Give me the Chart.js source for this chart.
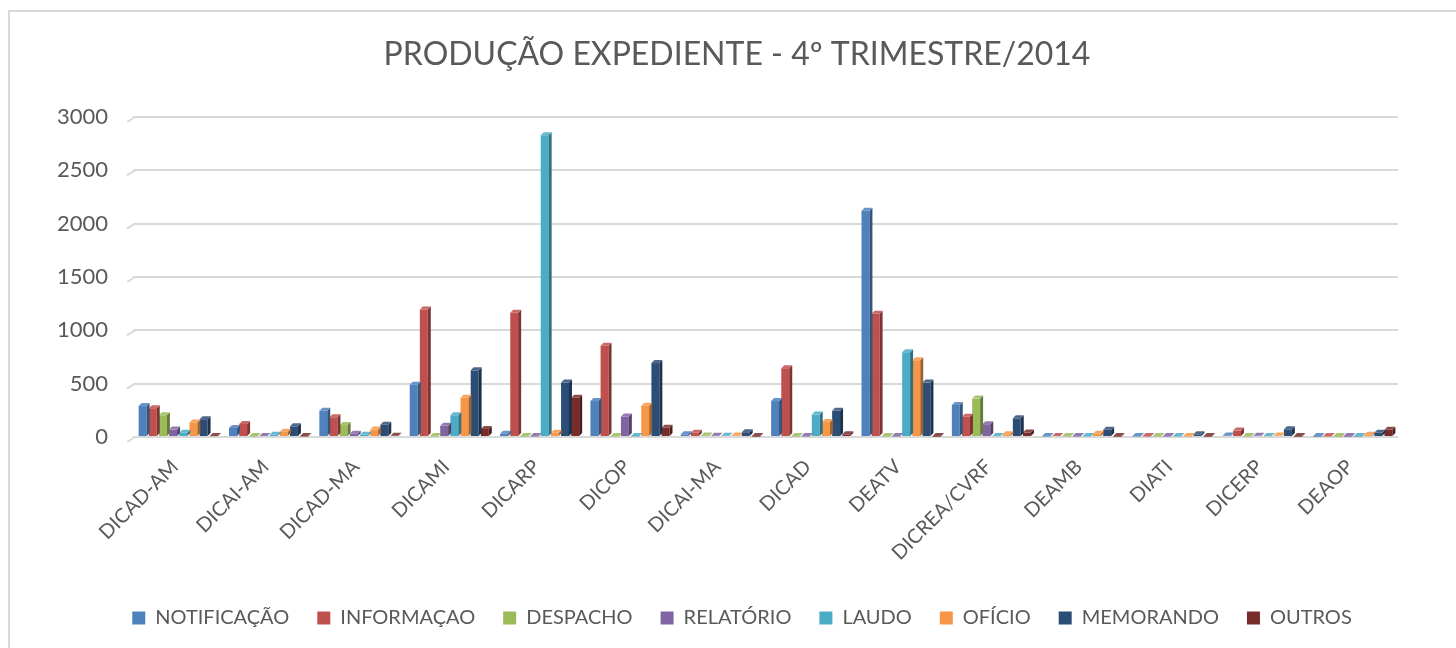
<!DOCTYPE html>
<html>
<head>
<meta charset="utf-8">
<script src="https://cdn.jsdelivr.net/npm/chart.js@4.4.1/dist/chart.umd.min.js"></script>
<style>
  html, body { margin:0; padding:0; background:#fff; }
  #wrap { position:relative; width:1456px; height:648px; overflow:hidden; }
  #frame { position:absolute; left:8px; top:10px; width:1500px; height:700px; border:2px solid #d9d9d9; box-sizing:border-box; }
  canvas { position:absolute; left:0; top:0; }
</style>
</head>
<body>
<div id="wrap">
  <div id="frame"></div>
  <canvas id="c" width="1456" height="648"></canvas>
</div>
<script>
const chartTitle = 'PRODUÇÃO EXPEDIENTE - 4º TRIMESTRE/2014';
const categories = ["DICAD-AM","DICAI-AM","DICAD-MA","DICAMI","DICARP","DICOP","DICAI-MA","DICAD","DEATV","DICREA/CVRF","DEAMB","DIATI","DICERP","DEAOP"];
const seriesNames = ["NOTIFICAÇÃO","INFORMAÇAO","DESPACHO","RELATÓRIO","LAUDO","OFÍCIO","MEMORANDO","OUTROS"];
const notificacao = [290, 85, 247, 490, 30, 337, 25, 337, 2120, 300, 5, 5, 15, 3];
const informacao  = [270, 122, 185, 1195, 1165, 855, 40, 645, 1155, 190, 10, 5, 60, 5];
const despacho    = [204, 5, 112, 5, 5, 5, 15, 5, 5, 360, 5, 5, 5, 3];
const relatorio   = [70, 10, 30, 105, 5, 192, 12, 5, 5, 120, 5, 5, 12, 3];
const laudo       = [40, 20, 22, 204, 2830, 5, 12, 210, 795, 8, 5, 5, 8, 3];
const oficio      = [137, 50, 70, 368, 40, 294, 15, 140, 720, 25, 30, 5, 15, 20];
const memorando   = [167, 100, 115, 625, 511, 693, 45, 245, 510, 175, 68, 25, 72, 40];
const outros      = [8, 5, 12, 75, 368, 86, 3, 25, 3, 42, 3, 3, 3, 68];
const yTicks = [0, 500, 1000, 1500, 2000, 2500, 3000];

const colors = ["#4F81BD","#C0504D","#9BBB59","#8064A2","#4BACC6","#F79646","#2C4D75","#772C2A"];
const seriesValues = [notificacao, informacao, despacho, relatorio, laudo, oficio, memorando, outros];

function shade(hex, f) {
  const n = parseInt(hex.slice(1), 16);
  let r = (n >> 16) & 255, g = (n >> 8) & 255, b = n & 255;
  if (f < 0) { r = Math.round(r * (1 + f)); g = Math.round(g * (1 + f)); b = Math.round(b * (1 + f)); }
  else { r = Math.round(r + (255 - r) * f); g = Math.round(g + (255 - g) * f); b = Math.round(b + (255 - b) * f); }
  return `rgb(${r},${g},${b})`;
}

const threeD = {
  id: 'threeD',
  afterDatasetDraw(chart, args) {
    const ctx = chart.ctx;
    const meta = args.meta;
    const col = colors[args.index];
    const d = 3;
    meta.data.forEach(el => {
      const p = el.getProps(['x','y','base','width'], true);
      const l = p.x - p.width / 2, r = p.x + p.width / 2;
      const top = Math.min(p.y, p.base), bot = Math.max(p.y, p.base);
      ctx.save();
      ctx.fillStyle = shade(col, -0.35);
      ctx.beginPath();
      ctx.moveTo(r, top); ctx.lineTo(r + d, top - d); ctx.lineTo(r + d, bot - d); ctx.lineTo(r, bot);
      ctx.closePath(); ctx.fill();
      ctx.fillStyle = shade(col, 0.15);
      ctx.beginPath();
      ctx.moveTo(l, top); ctx.lineTo(l + d, top - d); ctx.lineTo(r + d, top - d); ctx.lineTo(r, top);
      ctx.closePath(); ctx.fill();
      ctx.restore();
    });
  }
};

const gridDiag = {
  id: 'gridDiag',
  beforeDatasetsDraw(chart) {
    const ctx = chart.ctx, y = chart.scales.y, a = chart.chartArea;
    ctx.save();
    ctx.strokeStyle = '#d9d9d9'; ctx.lineWidth = 2;
    yTicks.forEach(v => {
      const py = y.getPixelForValue(v);
      ctx.beginPath(); ctx.moveTo(a.left - 6, py + 5); ctx.lineTo(a.left + 2, py); ctx.stroke();
    });
    ctx.restore();
  }
};

const FONT = "Lato, 'Open Sans', sans-serif";
const TXT = '#595959';

const titlePlugin = {
  id: 'titleText',
  afterDraw(chart) {
    const ctx = chart.ctx;
    ctx.save();
    ctx.fillStyle = TXT;
    ctx.font = `32px ${FONT}`;
    ctx.textAlign = 'center';
    ctx.textBaseline = 'middle';
    ctx.fillText(chartTitle, 737, 55);
    ctx.restore();
  }
};

new Chart(document.getElementById('c'), {
  type: 'bar',
  data: {
    labels: categories,
    datasets: seriesNames.map((name, i) => ({
      label: name,
      data: seriesValues[i],
      backgroundColor: colors[i],
      borderWidth: 0,
      categoryPercentage: 0.9,
      barPercentage: 0.78
    }))
  },
  options: {
    responsive: false,
    animation: false,
    layout: { padding: { left: 86, right: 58, top: 117, bottom: 10 } },
    plugins: {
      title: { display: false },
      legend: {
        position: 'bottom',
        labels: {
          color: TXT,
          font: { family: FONT, size: 20 },
          boxWidth: 13, boxHeight: 13,
          padding: 28
        }
      },
      tooltip: { enabled: false }
    },
    scales: {
      x: {
        grid: { display: false },
        border: { display: false },
        ticks: {
          color: TXT,
          font: { family: FONT, size: 20 },
          minRotation: 45, maxRotation: 45,
          autoSkip: false,
          padding: 10,
          labelOffset: -3
        },
        afterFit(s) { s.height = 143; }
      },
      y: {
        min: 0, max: 3000,
        afterBuildTicks(s) { s.ticks = yTicks.map(v => ({ value: v })); },
        grid: { color: '#d9d9d9', lineWidth: 2, drawTicks: false },
        border: { display: false },
        ticks: {
          color: TXT,
          font: { family: FONT, size: 22 },
          mirror: true,
          crossAlign: 'far',
          padding: -76,
          callback: v => String(v)
        },
        afterFit(s) { s.width = 47; }
      }
    }
  },
  plugins: [gridDiag, threeD, titlePlugin]
});
</script>
</body>
</html>
